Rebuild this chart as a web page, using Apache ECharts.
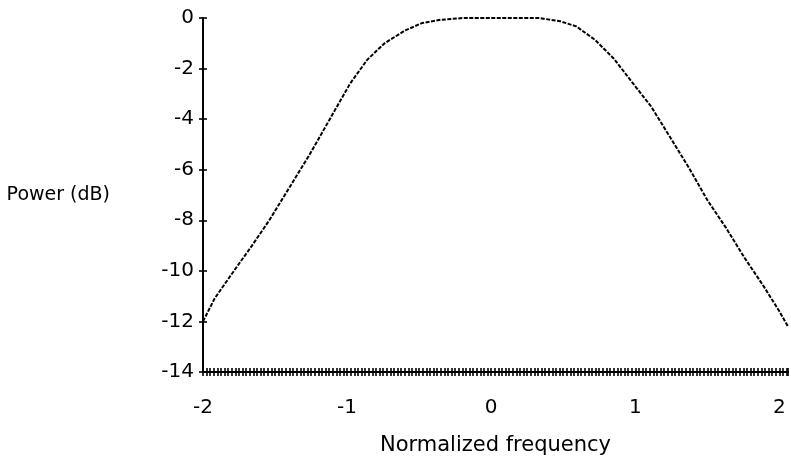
<!DOCTYPE html>
<html>
<head>
<meta charset="utf-8">
<script src="https://cdn.jsdelivr.net/npm/echarts@6/dist/echarts.min.js"></script>
<style>html,body{margin:0;padding:0;background:#fff}#c{width:791px;height:461px}</style>
</head>
<body>
<div id="c"></div>
<script>
var freq = [-2.00,-1.92,-1.81,-1.66,-1.54,-1.40,-1.26,-1.12,-0.98,-0.86,-0.74,-0.60,-0.48,-0.35,-0.19,0.07,0.33,0.48,0.59,0.72,0.85,1.00,1.11,1.24,1.37,1.50,1.63,1.76,1.89,2.00,2.06];
var powerDb = [-12.0,-11.1,-10.2,-9.0,-8.0,-6.7,-5.4,-4.0,-2.6,-1.65,-1.0,-0.5,-0.2,-0.07,0,0,0,-0.13,-0.33,-0.86,-1.6,-2.7,-3.5,-4.7,-5.9,-7.2,-8.3,-9.5,-10.6,-11.6,-12.2];
var xTicks = [-2,-1,0,1,2];
var yTicks = [0,-2,-4,-6,-8,-10,-12,-14];
var xTitle = 'Normalized frequency';
var yTitle = 'Power (dB)';

var font = 'DejaVu Sans';
var pts = freq.map(function(f,i){return [f, powerDb[i]];});
var chart = echarts.init(document.getElementById('c'), null, {renderer:'canvas'});
var xBase = {type:'value', min:-2, max:2.06, interval:1, position:'bottom', splitLine:{show:false}};
var yBase = {type:'value', min:-14, max:0, interval:2, position:'left', splitLine:{show:false}};
chart.setOption({
  animation:false,
  backgroundColor:'#fff',
  grid:{left:203, right:0, top:18, bottom:86, containLabel:false},
  xAxis:[
    Object.assign({}, xBase, {
      name:xTitle, nameLocation:'middle', nameGap:63,
      nameTextStyle:{fontFamily:font, fontSize:21, color:'#000'},
      axisLine:{show:true, onZero:false, lineStyle:{color:'#000', width:2}},
      axisTick:{show:true, length:4, lineStyle:{color:'#000', width:1.6}},
      minorTick:{show:true, splitNumber:40, length:4, lineStyle:{color:'#000', width:1.6}},
      axisLabel:{show:true, margin:26, fontFamily:font, fontSize:20, color:'#000',
        formatter:function(v){return xTicks.indexOf(v)>=0 ? String(v) : '';}}
    }),
    Object.assign({}, xBase, {
      axisLine:{show:false, onZero:false},
      axisTick:{show:true, inside:true, length:4, lineStyle:{color:'#000', width:1.6}},
      minorTick:{show:true, splitNumber:40, length:4, lineStyle:{color:'#000', width:1.6}},
      axisLabel:{show:false}
    })
  ],
  yAxis:[
    Object.assign({}, yBase, {
      name:yTitle, nameLocation:'middle', nameRotate:0, nameGap:93,
      nameTextStyle:{fontFamily:font, fontSize:19, color:'#000', align:'right'},
      axisLine:{show:true, onZero:false, lineStyle:{color:'#000', width:2}},
      axisTick:{show:true, length:4, lineStyle:{color:'#000', width:1.6}},
      axisLabel:{show:true, margin:9, fontFamily:font, fontSize:20, color:'#000',
        formatter:function(v){return yTicks.indexOf(v)>=0 ? String(v) : '';}}
    }),
    Object.assign({}, yBase, {
      axisLine:{show:false, onZero:false},
      axisTick:{show:true, inside:true, length:4, lineStyle:{color:'#000', width:1.6}},
      axisLabel:{show:false}
    })
  ],
  series:[{
    type:'line', xAxisIndex:0, yAxisIndex:0, data:pts, symbol:'none', smooth:false,
    lineStyle:{color:'#000', width:2, type:[4,1.5]}
  }]
});
</script>
</body>
</html>
